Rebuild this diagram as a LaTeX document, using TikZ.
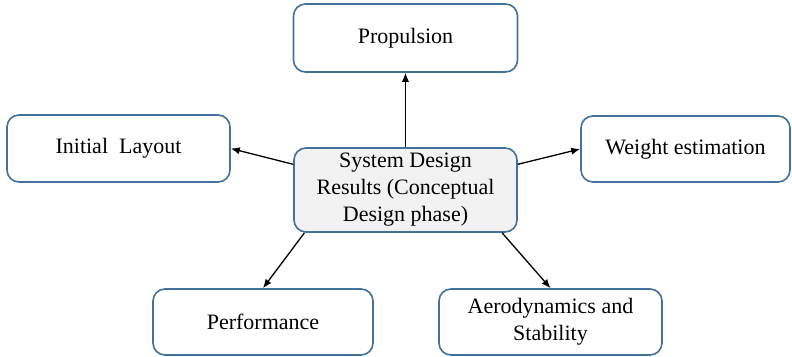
\documentclass[tikz,border=0pt]{standalone}
\usepackage{fontspec}
\setmainfont{Liberation Serif}
\usepackage{tikz}
\usetikzlibrary{arrows.meta}
\usetikzlibrary{positioning, calc}

\definecolor{boxline}{RGB}{65,113,156}
\definecolor{hubfill}{RGB}{242,242,242}

\begin{document}
\begin{tikzpicture}[
    x=1pt, y=1pt,
    block/.style={draw=boxline, line width=0.8pt, rounded corners=6pt, fill=white, align=center, font=\fontsize{11}{13.5}\selectfont, inner sep=2pt},
    result/.style={block, minimum width=111.5pt, minimum height=33.5pt},
    hub/.style={block, fill=hubfill, minimum width=111.5pt, minimum height=42pt},
    link/.style={-{Latex[length=4.5pt, width=3.6pt]}, line width=0.65pt, black}
]
    \draw  node[hub] (res) {System Design\\Results (Conceptual\\Design phase)} ;
    \useasboundingbox (res) ++(-202.75, -83.5) rectangle ++(396, 178.5);

    \draw  (res) ++(0, 76) node[result, minimum width=112pt, minimum height=34pt] (prop) {Propulsion};
    \draw  (res) ++(-143.5, 20.75) node[result] (lay) {Initial~~Layout};
    \draw  (res) ++(140, 20.5) node[result, minimum width=104.5pt, minimum height=33pt] (wt) {Weight estimation};
    \draw  (res) ++(-71.25, -66) node[result, minimum width=110pt, minimum height=33pt] (perf) {Performance};
    \draw  (res) ++(72.5, -66) node[result, minimum height=33pt] (aero) {Aerodynamics and\\Stability};

    \draw[link] (res.north) -- (prop.south);
    \draw[link] ($(res.north west)!.2!(res.south west)$) -- (lay.east);
    \draw[link] ($(res.north east)!.2!(res.south east)$) -- (wt.west);
    \draw[link] ($(res.south west)!.05!(res.south east)$) -- (perf.north);
    \draw[link] ($(res.south west)!.93!(res.south east)$) -- (aero.north);

\end{tikzpicture}
\end{document}
